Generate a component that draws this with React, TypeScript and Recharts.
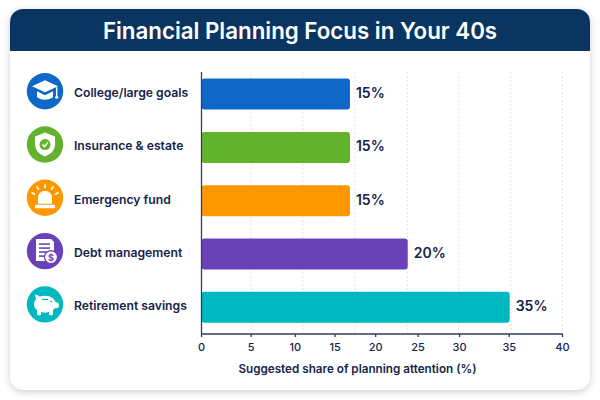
import { BarChart, Bar, Cell, XAxis, YAxis, CartesianGrid, LabelList, Label } from 'recharts';

const categories = ['College/large goals', 'Insurance & estate', 'Emergency fund', 'Debt management', 'Retirement savings'];
// printed shares
const shareLabels = ['15%', '15%', '15%', '20%', '35%'];
// bar ends as they sit on the 0-40 axis line (the drawn bars run past their printed share)
const barLengths = [16.45, 16.45, 16.45, 22.85, 34.15];
const barColors = ['#0f67c8', '#62b22c', '#ff9800', '#6a42b8', '#00b8bf'];

// the tick labels are unevenly spaced in the picture
const tickPositions = [0, 5.5, 10.4, 14.8, 19.3, 24, 28.6, 34.1, 40];
const tickLabels = ['0', '5', '10', '15', '20', '25', '30', '35', '40'];
const gridPositions = [5.5, 11.25, 17, 22.8, 28.5, 34.3, 40];

const data = categories.map((name, i) => ({ name, length: barLengths[i], label: shareLabels[i] }));

const FONT = 'Inter, sans-serif';
const INK = '#16234a';

function Icon({ index }: { index: number }) {
  if (index === 0) {
    return (
      <g fill="#fff">
        <path d="M0 -11 L13 -5 L0 1 L-13 -5 Z" />
        <path d="M-8 0 L0 4 L8 0 L8 6 Q0 11 -8 6 Z" />
        <rect x="11" y="-4" width="1.4" height="9" />
        <circle cx="11.7" cy="6" r="1.6" />
      </g>
    );
  }
  if (index === 1) {
    return (
      <g>
        <path d="M0 -12 L10 -8 L10 0 Q10 8 0 12 Q-10 8 -10 0 L-10 -8 Z" fill="#fff" />
        <circle r="5.5" fill="#62b22c" />
        <path d="M-2.6 0 L-0.6 2.2 L2.8 -2" stroke="#fff" strokeWidth="1.5" fill="none" />
      </g>
    );
  }
  if (index === 2) {
    return (
      <g fill="#fff">
        <path d="M-7 6 L-7 0 A7 7 0 0 1 7 0 L7 6 Z" />
        <rect x="-10" y="7" width="20" height="3.5" rx="1" />
        <g stroke="#fff" strokeWidth="1.6" strokeLinecap="round">
          <path d="M0 -13 L0 -10" />
          <path d="M-8 -11 L-6.5 -8.5" />
          <path d="M8 -11 L6.5 -8.5" />
          <path d="M-13 -5 L-10.5 -3.5" />
          <path d="M13 -5 L10.5 -3.5" />
        </g>
      </g>
    );
  }
  if (index === 3) {
    return (
      <g>
        <path d="M-9 -12 L6 -12 L9 -9 L9 10 L-9 10 Z" fill="#fff" />
        <g stroke="#6a42b8" strokeWidth="1.6">
          <path d="M-6 -7 L5 -7" />
          <path d="M-6 -3 L5 -3" />
          <path d="M-6 1 L2 1" />
          <path d="M-6 5 L1 5" />
        </g>
        <circle cx="6" cy="6" r="6.5" fill="#fff" stroke="#6a42b8" strokeWidth="1.2" />
        <text x="6" y="9.5" textAnchor="middle" fontSize="9" fontWeight={700} fill="#6a42b8" fontFamily={FONT}>$</text>
      </g>
    );
  }
  return (
    <g fill="#fff">
      <ellipse cx="0" cy="0" rx="11" ry="8.5" />
      <rect x="-8" y="5" width="4" height="6" rx="1" />
      <rect x="4" y="5" width="4" height="6" rx="1" />
      <path d="M-9 -5 L-10 -10 L-5 -8 Z" />
      <circle cx="11" cy="1" r="3" />
      <rect x="-3" y="-5.5" width="6" height="1.2" fill="#00b8bf" />
      <circle cx="6" cy="-3" r="0.9" fill="#00b8bf" />
    </g>
  );
}

function CategoryTick({ y, payload, index }: any) {
  return (
    <g>
      <circle cx={45} cy={y - 3} r={18.2} fill={barColors[index]} />
      <g transform={`translate(45 ${y - 3})`}>
        <Icon index={index} />
      </g>
      <text x={74} y={y - 1.5} dy="0.35em" fontSize={12.2} fontWeight={600} fill={INK} fontFamily={FONT}>
        {payload.value}
      </text>
    </g>
  );
}

export default function App() {
  return (
    <div style={{ position: 'absolute', left: 0, top: 0, width: 600, height: 400, background: '#fff', overflow: 'hidden', fontFamily: FONT }}>
      <div
        style={{
          position: 'absolute',
          left: 10,
          top: 9,
          width: 580,
          height: 381,
          background: '#fff',
          borderRadius: 13,
          boxShadow: '0 2px 7px rgba(20,30,50,0.22)',
          overflow: 'hidden',
        }}
      >
        <div
          style={{
            height: 42,
            lineHeight: '44px',
            background: '#0a3560',
            color: '#fff',
            textAlign: 'center',
            fontSize: 22.3,
            fontWeight: 600,
          }}
        >
          Financial Planning Focus in Your 40s
        </div>
      </div>
      <div style={{ position: 'absolute', left: 0, top: 0 }}>
        <BarChart width={600} height={400} data={data} layout="vertical" margin={{ top: 72, right: 37.5, bottom: 0, left: 0 }}>
          <CartesianGrid horizontal={false} verticalValues={gridPositions} stroke="#e3e5ea" strokeDasharray="2 2" />
          <XAxis
            type="number"
            domain={[0, 40]}
            ticks={tickPositions}
            interval={0}
            height={66}
            tickSize={3}
            tickMargin={6}
            tickFormatter={(_v: number, i: number) => tickLabels[i]}
            tick={{ fontSize: 11, fontWeight: 500, fill: INK, fontFamily: FONT }}
            stroke="#2c3f66"
            strokeWidth={1.3}
          >
            <Label
              value="Suggested share of planning attention (%)"
              position="insideBottom"
              dx={-24.5}
              offset={27}
              style={{ fontSize: 11.7, fontWeight: 600, fill: INK, fontFamily: FONT }}
            />
          </XAxis>
          <YAxis
            type="category"
            dataKey="name"
            width={201.5}
            padding={{ top: -4.4, bottom: 0 }}
            tickLine={false}
            interval={0}
            tick={<CategoryTick />}
            stroke="#2c3f66"
            strokeWidth={1.3}
          />
          <Bar dataKey="length" barSize={31} radius={3} isAnimationActive={false}>
            {data.map((d, i) => (
              <Cell key={d.name} fill={barColors[i]} />
            ))}
            <LabelList
              dataKey="label"
              position="right"
              offset={6}
              dy={-1}
              style={{ fontSize: 14, fontWeight: 600, fill: INK, fontFamily: FONT }}
            />
          </Bar>
        </BarChart>
      </div>
    </div>
  );
}
